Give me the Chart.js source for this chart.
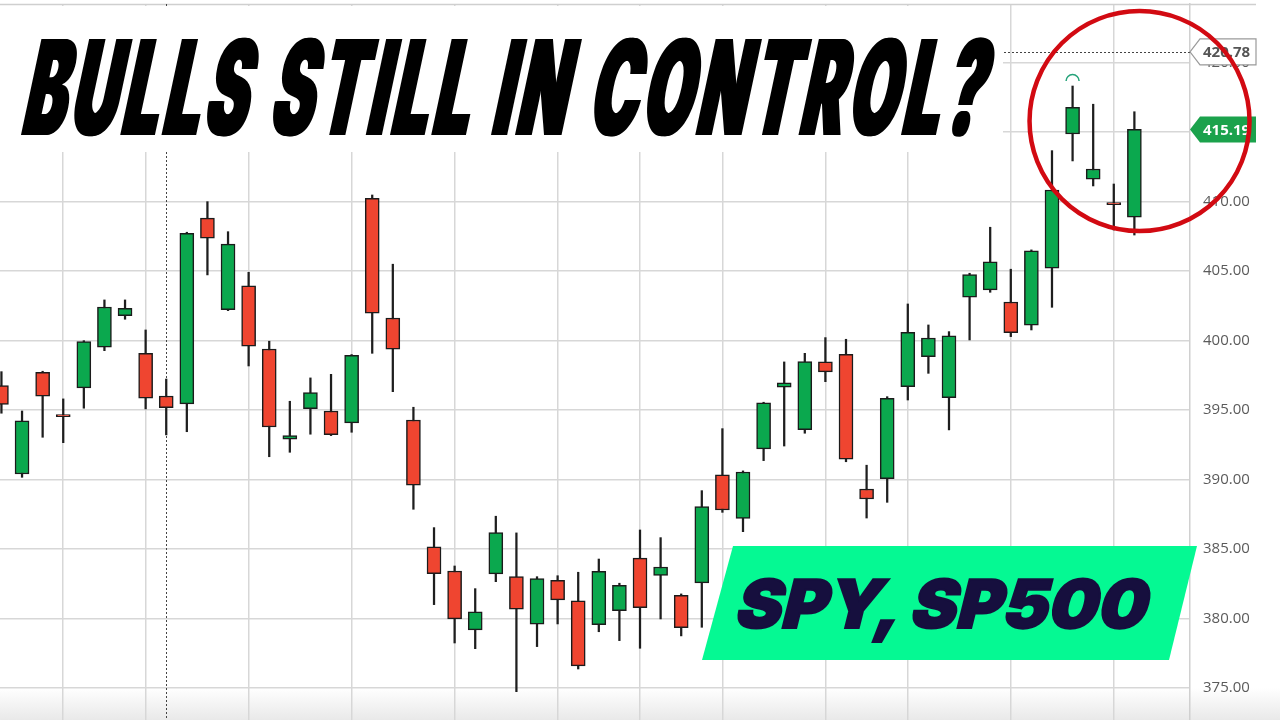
<!DOCTYPE html>
<html>
<head>
<meta charset="utf-8">
<script src="https://cdn.jsdelivr.net/npm/chart.js@4.4.1/dist/chart.umd.min.js"></script>
<style>
  html, body { margin: 0; padding: 0; background: #fff; }
  #wrap { position: relative; width: 1280px; height: 720px; overflow: hidden; }
  #title {
    position: absolute; left: 0; top: 6px; width: 1003px; height: 146px;
    background: #fff; overflow: hidden;
  }
  #title span {
    position: absolute; left: 18px; top: 15px; display: inline-block; white-space: nowrap;
    font: 900 132px Inter, "DejaVu Sans", sans-serif; line-height: 132px; color: #000;
    letter-spacing: 12px; transform-origin: 0 114px;
    text-shadow: 3px 0 #000, 6px 0 #000, 8px 0 #000;
  }
  #badge {
    position: absolute; left: 702px; top: 546px; width: 495px; height: 114px;
    background: #05f993; clip-path: polygon(31px 0, 495px 0, 467px 114px, 0 114px);
  }
  #badge span {
    position: absolute; left: 31px; top: 24px; display: inline-block; white-space: nowrap;
    font: 900 67px Inter, "DejaVu Sans", sans-serif; line-height: 67px; color: #160f3e;
    -webkit-text-stroke: 2px #160f3e; transform-origin: 0 58px;
  }
</style>
</head>
<body>
<div id="wrap">
  <canvas id="spy_chart" width="1280" height="720"></canvas>
  <div id="title"><span>BULLS STILL IN CONTROL?</span></div>
  <div id="badge"><span>SPY, SP500</span></div>
</div>
<script>
// daily candles
var open  = [396.76, 390.41, 397.73, 394.66, 396.60, 399.53, 401.80, 399.09, 396.02, 395.45,
             408.81, 402.23, 403.94, 399.40, 392.91, 395.11, 394.94, 394.08, 410.24, 401.63,
             394.29, 385.16, 383.43, 379.19, 383.22, 383.02, 379.60, 382.76, 381.29, 379.57,
             380.58, 384.35, 383.12, 381.68, 382.57, 390.34, 387.22, 392.21, 396.65, 393.60,
             398.47, 399.02, 389.33, 390.07, 396.69, 398.85, 395.90, 403.12, 403.65, 402.78,
             401.11, 405.21, 414.87, 411.61, 409.87, 408.88];
var high  = [397.77, 394.94, 397.80, 395.81, 400.00, 402.93, 402.93, 400.77, 397.24, 407.80,
             410.00, 407.84, 404.92, 399.96, 395.64, 397.32, 397.58, 399.00, 410.48, 405.50,
             395.21, 386.55, 383.79, 382.16, 387.37, 386.17, 383.02, 383.09, 383.34, 384.29,
             382.55, 386.38, 385.83, 381.78, 389.21, 393.67, 390.63, 395.57, 398.47, 399.09,
             400.22, 400.10, 391.04, 395.97, 402.64, 401.13, 400.65, 404.85, 408.16, 405.14,
             406.53, 413.67, 418.32, 417.01, 411.27, 416.47];
var low   = [394.78, 390.17, 393.05, 392.66, 395.14, 399.28, 401.54, 395.09, 393.22, 393.45,
             404.73, 402.16, 398.18, 391.65, 391.97, 393.27, 393.17, 393.41, 399.09, 396.33,
             387.87, 381.01, 378.25, 377.84, 382.66, 374.75, 377.99, 379.62, 376.38, 379.06,
             378.42, 377.87, 379.98, 378.76, 379.38, 387.65, 386.26, 391.37, 392.42, 393.34,
             397.05, 391.29, 387.24, 388.37, 395.73, 397.65, 393.58, 400.05, 403.48, 400.29,
             400.77, 402.40, 412.93, 411.13, 407.96, 407.60];
var close = [395.42, 394.24, 396.00, 394.54, 399.93, 402.42, 402.33, 395.86, 395.18, 407.73,
             407.37, 406.94, 399.60, 393.79, 393.17, 396.26, 393.24, 398.95, 401.97, 399.38,
             389.60, 383.24, 379.98, 380.50, 386.19, 380.68, 382.88, 381.35, 376.60, 383.41,
             382.40, 380.79, 383.72, 379.35, 388.06, 387.82, 390.55, 395.52, 396.96, 398.49,
             397.75, 391.47, 388.61, 395.86, 400.60, 400.19, 400.34, 404.75, 405.68, 400.58,
             406.47, 410.84, 416.79, 412.35, 409.79, 415.21];

var gridDays = [3, 7, 12, 17, 22, 27, 31, 35, 40, 44, 49, 54]; // week/month lines
var yTicks = [375, 380, 385, 390, 395, 400, 405, 410, 415, 420];
var cursorDay = 8;
var prevHigh = 420.78;
var lastPrice = 415.19;

var UP = "#0ba84e", DOWN = "#ef4530", GRID = "#d7d7d7";

var wicks = open.map(function (o, i) { return { x: i, y: [low[i], high[i]] }; });
var bodies = open.map(function (o, i) { return { x: i, y: [o, close[i]] }; });
var bodyColors = open.map(function (o, i) { return close[i] >= o ? UP : DOWN; });

function priceTag(ctx, y, fill, stroke, textColor, text) {
  ctx.save();
  ctx.beginPath();
  ctx.moveTo(1190, y);
  ctx.lineTo(1200, y - 13);
  ctx.lineTo(1256, y - 13);
  ctx.lineTo(1256, y + 13);
  ctx.lineTo(1200, y + 13);
  ctx.closePath();
  ctx.fillStyle = fill;
  ctx.fill();
  if (stroke) { ctx.strokeStyle = stroke; ctx.lineWidth = 1.2; ctx.stroke(); }
  ctx.fillStyle = textColor;
  ctx.font = 'bold 15px "Open Sans"';
  ctx.textAlign = "left";
  ctx.textBaseline = "middle";
  ctx.fillText(text, 1203, y + 1);
  ctx.restore();
}

var extras = {
  id: "extras",
  beforeDraw: function (chart) {
    var ctx = chart.ctx;
    var g = ctx.createLinearGradient(0, 688, 0, 720);
    g.addColorStop(0, "#ffffff");
    g.addColorStop(1, "#e9e9e9");
    ctx.save();
    ctx.fillStyle = g;
    ctx.fillRect(0, 688, 1280, 32);
    ctx.restore();
  },
  beforeDatasetsDraw: function (chart) {
    var ctx = chart.ctx, xs = chart.scales.x, ys = chart.scales.y, a = chart.chartArea;
    ctx.save();
    ctx.strokeStyle = "#cfcfcf";
    ctx.lineWidth = 1.5;
    ctx.beginPath(); ctx.moveTo(0, 4.5); ctx.lineTo(1256, 4.5); ctx.stroke();
    ctx.strokeStyle = "#444";
    ctx.lineWidth = 1;
    ctx.setLineDash([2, 2]);
    var cx = Math.round(xs.getPixelForValue(cursorDay)) + 0.5;
    ctx.beginPath(); ctx.moveTo(cx, a.top); ctx.lineTo(cx, a.bottom); ctx.stroke();
    var hy = Math.round(ys.getPixelForValue(prevHigh)) + 0.5;
    ctx.beginPath(); ctx.moveTo(a.left, hy); ctx.lineTo(a.right, hy); ctx.stroke();
    ctx.restore();
  },
  afterDraw: function (chart) {
    var ctx = chart.ctx, xs = chart.scales.x, ys = chart.scales.y;
    priceTag(ctx, ys.getPixelForValue(prevHigh), "#ffffff", "#9a9a9a", "#555", prevHigh.toFixed(2));
    priceTag(ctx, ys.getPixelForValue(lastPrice), "#1ba24c", null, "#ffffff", lastPrice.toFixed(2));

    // little marker above the top candle
    ctx.save();
    ctx.strokeStyle = "#26a37a";
    ctx.lineWidth = 1.5;
    ctx.beginPath();
    ctx.arc(xs.getPixelForValue(52), ys.getPixelForValue(high[52]) - 5, 6.5, Math.PI, 2 * Math.PI);
    ctx.stroke();

    // red circle round the last days
    ctx.strokeStyle = "#d20a12";
    ctx.lineWidth = 4.5;
    ctx.beginPath();
    ctx.arc(xs.getPixelForValue(55.25), ys.getPixelForValue(415.8), 110, 0, 2 * Math.PI);
    ctx.stroke();
    ctx.restore();
  }
};

var ctx = document.getElementById("spy_chart").getContext("2d");
var spy_chart = new Chart(ctx, {
  type: "bar",
  data: {
    datasets: [
      {
        label: "wick",
        data: wicks,
        backgroundColor: "#1e1e1e",
        borderWidth: 0,
        barThickness: 1.6,
        grouped: false,
        order: 2,
      },
      {
        label: "body",
        data: bodies,
        backgroundColor: bodyColors,
        borderColor: "#1b1b1b",
        borderWidth: 1.5,
        borderSkipped: false,
        barThickness: 14,
        minBarLength: 2,
        grouped: false,
        order: 1,
      },
    ],
  },
  options: {
    responsive: false,
    animation: false,
    layout: { padding: { top: 4, left: 0, right: 0, bottom: 0 } },
    plugins: {
      legend: { display: false },
      tooltip: { enabled: false },
    },
    scales: {
      x: {
        type: "linear",
        min: -0.07,
        max: 57.7,
        offset: false,
        grid: { color: GRID, lineWidth: 1.5, drawTicks: false, offset: false },
        border: { display: false },
        ticks: { display: false },
        afterBuildTicks: function (s) {
          s.ticks = gridDays.map(function (v) { return { value: v }; });
        },
        afterFit: function (s) {
          s.height = 0;
          s.paddingLeft = 0; s.paddingRight = 0;
        },
      },
      y: {
        position: "right",
        min: 372.71,
        max: 424.22,
        grid: { color: GRID, lineWidth: 1.5, drawTicks: false },
        border: { display: true, color: "#d0d0d0", width: 1.5 },
        ticks: {
          padding: 13,
          color: "#5b5b5b",
          font: { family: '"Open Sans"', size: 15 },
          callback: function (v) { return Number(v).toFixed(2); },
        },
        afterBuildTicks: function (s) {
          s.ticks = yTicks.map(function (v) { return { value: v }; });
        },
        afterFit: function (s) {
          s.width = 90;
          s.paddingTop = 0; s.paddingBottom = 0;
        },
      },
    },
  },
  plugins: [extras],
});

// squeeze the overlay headlines to the widths in the picture
function fitText(el, width, extra, slant) {
  var w = el.offsetWidth + extra;
  el.style.transform = "skewX(" + slant + "deg) scaleX(" + (width / w) + ")";
}
fitText(document.querySelector("#title span"), 963, -4, -12);
fitText(document.querySelector("#badge span"), 412, 0, -14);
</script>
</body>
</html>
